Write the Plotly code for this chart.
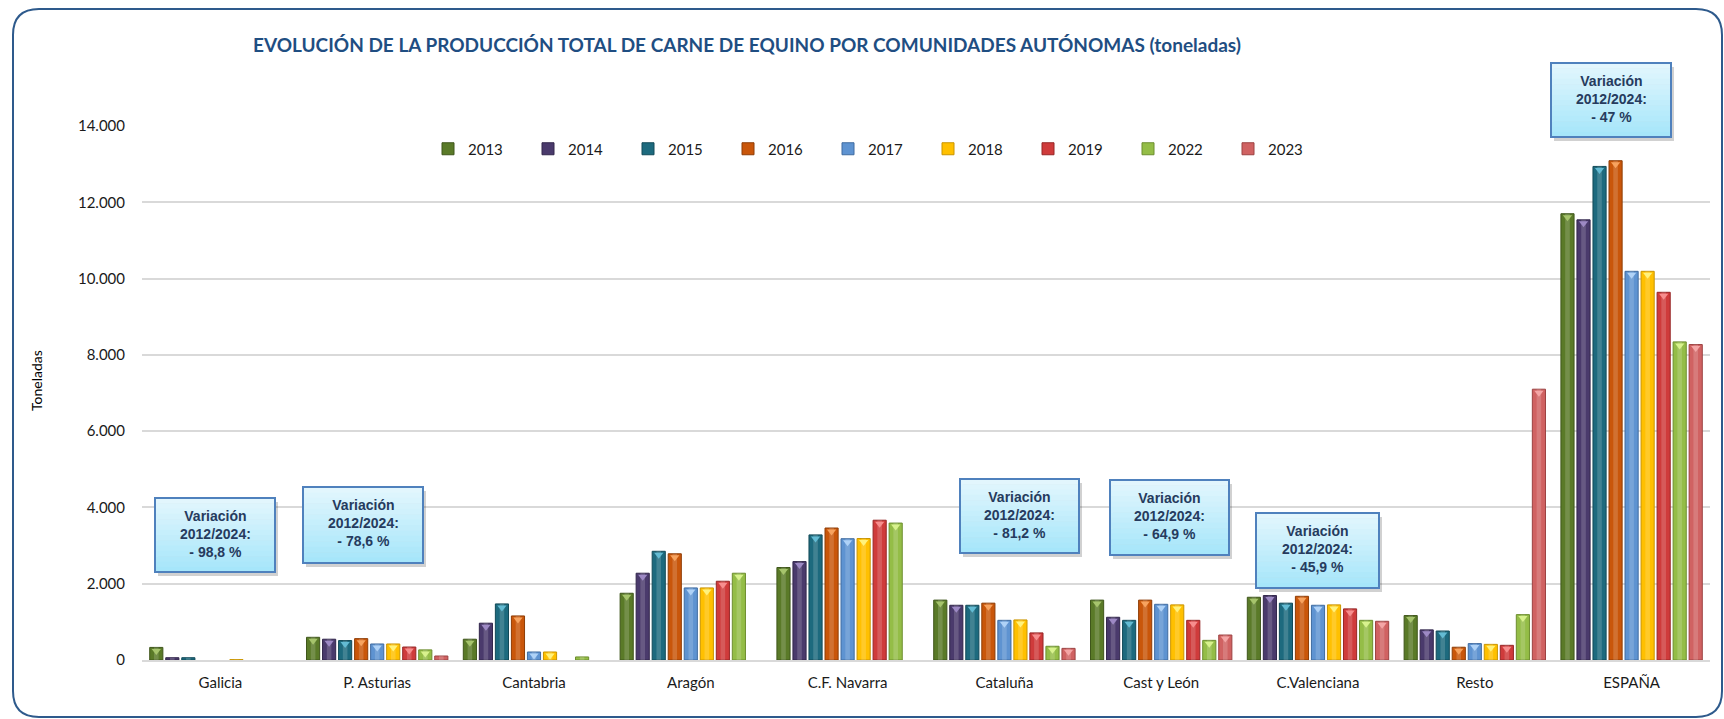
import plotly.graph_objects as go

# ---------------- data (toneladas) ----------------
regiones = ["Galicia", "P. Asturias", "Cantabria", "Aragón", "C.F. Navarra",
            "Cataluña", "Cast y León", "C.Valenciana", "Resto", "ESPAÑA"]
anios = ["2013", "2014", "2015", "2016", "2017", "2018", "2019", "2022", "2023"]

v2013 = [330, 595, 545, 1750, 2425, 1570, 1570, 1645, 1165, 11700]
v2014 = [60, 545, 965, 2275, 2580, 1435, 1120, 1690, 790, 11540]
v2015 = [60, 510, 1470, 2850, 3280, 1435, 1040, 1490, 760, 12940]
v2016 = [None, 560, 1155, 2785, 3460, 1490, 1570, 1670, 335, 13090]
v2017 = [None, 420, 210, 1890, 3180, 1040, 1460, 1435, 430, 10190]
v2018 = [10, 420, 210, 1890, 3185, 1050, 1445, 1445, 410, 10190]
v2019 = [None, 340, None, 2065, 3665, 710, 1040, 1340, 385, 9640]
v2022 = [None, 265, 80, 2275, 3590, 360, 515, 1040, 1190, 8340]
v2023 = [None, 105, None, None, None, 305, 655, 1015, 7100, 8270]
series = [v2013, v2014, v2015, v2016, v2017, v2018, v2019, v2022, v2023]

variacion_region = ["Galicia", "P. Asturias", "Cataluña", "Cast y León", "C.Valenciana", "ESPAÑA"]
variacion_texto = ["- 98,8 %", "- 78,6 %", "- 81,2 %", "- 64,9 %", "- 45,9 %", "- 47 %"]

y_ticks = [0, 2000, 4000, 6000, 8000, 10000, 12000, 14000]

# ---------------- style ----------------
bar_colors = ["#5A7A28", "#4A3A6C", "#1D6A7E", "#C9560A", "#5E93D1",
              "#FFC000", "#CF3B3B", "#94BD47", "#D06262"]
edge_colors = ["#3F561B", "#32264B", "#124A58", "#8E3D06", "#3F6BA0",
               "#C99400", "#962626", "#6D8E2F", "#9C4242"]
tip_colors = ["#A6C46C", "#9D89C4", "#63BBD3", "#F7A35F", "#AFD2F7",
              "#FFF27D", "#F78E8E", "#D8F28D", "#F4A6A6"]

W, H = 1724, 719
ML, MR, MT, MB = 142, 14, 126, 59
PW, PH = W - ML - MR, H - MT - MB
Y_MAX = 14000
BARGAP, GROUPGAP = 0.08, 0.18

FONT = "Lato"
BOX_FONT = "Liberation Sans"


def px_x(px):
    return (px - ML) / PW


def px_y(py):
    return (MT + PH - py) / PH


fig = go.Figure()

for k, (name, vals) in enumerate(zip(anios, series)):
    fig.add_trace(go.Bar(
        name=name, x=regiones, y=vals,
        marker=dict(color=bar_colors[k], line=dict(color=edge_colors[k], width=1)),
        hovertemplate="%{x} " + name + ": %{y:,.0f} t<extra></extra>",
    ))

# light bevel stripe and small tip triangle on each bar (numeric overlay axis)
n = len(anios)
slot = (1 - BARGAP) / n
px_per_unit = Y_MAX / PH
for k, vals in enumerate(series):
    xs, ys, xt, yt = [], [], [], []
    for i, v in enumerate(vals):
        if v is None or v <= 0:
            continue
        xc = i - (1 - BARGAP) / 2 + slot * (k + 0.5)
        xs.append(xc)
        ys.append(v)
        if v > 150:
            xt.append(xc)
            yt.append(v - 3.5 * px_per_unit)
    fig.add_trace(go.Bar(
        x=xs, y=ys, width=slot * (1 - GROUPGAP) * 0.35, xaxis="x2",
        marker=dict(color="rgba(255,255,255,0.16)", line=dict(width=0)),
        showlegend=False, hoverinfo="skip",
    ))
    fig.add_trace(go.Scatter(
        x=xt, y=yt, xaxis="x2", mode="markers",
        marker=dict(symbol="triangle-down", size=8, color=tip_colors[k],
                    line=dict(width=0)),
        showlegend=False, hoverinfo="skip", cliponaxis=False,
    ))

shapes = []

# outer rounded frame
x0, y0, x1, y1, r = 13, 9, 1722, 717, 26
frame = (f"M {px_x(x0 + r)},{px_y(y0)} L {px_x(x1 - r)},{px_y(y0)} "
         f"Q {px_x(x1)},{px_y(y0)} {px_x(x1)},{px_y(y0 + r)} "
         f"L {px_x(x1)},{px_y(y1 - r)} Q {px_x(x1)},{px_y(y1)} {px_x(x1 - r)},{px_y(y1)} "
         f"L {px_x(x0 + r)},{px_y(y1)} Q {px_x(x0)},{px_y(y1)} {px_x(x0)},{px_y(y1 - r)} "
         f"L {px_x(x0)},{px_y(y0 + r)} Q {px_x(x0)},{px_y(y0)} {px_x(x0 + r)},{px_y(y0)} Z")
shapes.append(dict(type="path", xref="paper", yref="paper", path=frame,
                   line=dict(color="#2E5A8C", width=2), layer="below"))

# call-out boxes (pixel rectangles)
boxes = [(155, 498, 275, 572), (303, 487, 423, 563), (960, 479, 1079, 553),
         (1110, 480, 1229, 555), (1256, 513, 1379, 588), (1551, 63, 1671, 137)]
annotations = []
top_rgb, bot_rgb = (226, 246, 253), (166, 230, 250)
steps = 14
for (bx0, by0, bx1, by1), region, txt in zip(boxes, variacion_region, variacion_texto):
    # soft shadow
    shapes.append(dict(type="rect", xref="paper", yref="paper",
                       x0=px_x(bx0 + 3), x1=px_x(bx1 + 3), y0=px_y(by1 + 4), y1=px_y(by0 + 4),
                       fillcolor="rgba(0,0,0,0.18)", line=dict(width=0)))
    # vertical gradient fill
    for s in range(steps):
        t = s / (steps - 1)
        c = tuple(round(a + (b - a) * t) for a, b in zip(top_rgb, bot_rgb))
        ya = by0 + (by1 - by0) * s / steps
        yb = by0 + (by1 - by0) * (s + 1) / steps
        shapes.append(dict(type="rect", xref="paper", yref="paper",
                           x0=px_x(bx0), x1=px_x(bx1), y0=px_y(yb + 0.5), y1=px_y(ya),
                           fillcolor=f"rgb{c}", line=dict(width=0)))
    shapes.append(dict(type="rect", xref="paper", yref="paper",
                       x0=px_x(bx0), x1=px_x(bx1), y0=px_y(by1), y1=px_y(by0),
                       line=dict(color="#4F81BD", width=2)))
    annotations.append(dict(
        xref="paper", yref="paper", x=px_x((bx0 + bx1) / 2), y=px_y(by0 + 8),
        xanchor="center", yanchor="top", showarrow=False, align="center",
        text=f"<b>Variación<br>2012/2024:<br>{txt}</b>",
        font=dict(family=BOX_FONT, size=14, color="#263B5E"),
    ))

annotations.append(dict(
    xref="paper", yref="paper", x=px_x(36), y=px_y(380), showarrow=False,
    text="Toneladas", textangle=-90, xanchor="center", yanchor="middle",
    font=dict(family=FONT, size=14, color="#000000"),
))

fig.update_layout(
    width=W, height=H,
    margin=dict(l=ML, r=MR, t=MT, b=MB, pad=0),
    paper_bgcolor="white", plot_bgcolor="white",
    separators=",.",
    barmode="group", bargap=BARGAP, bargroupgap=GROUPGAP,
    title=dict(
        text="<b>EVOLUCIÓN DE LA PRODUCCIÓN TOTAL DE CARNE DE EQUINO POR COMUNIDADES AUTÓNOMAS (toneladas)</b>",
        x=747 / W, xanchor="center", y=1 - 45 / H, yanchor="middle",
        font=dict(family=FONT, size=19, color="#1F4E82"),
    ),
    font=dict(family=FONT, size=15, color="#1a1a1a"),
    xaxis=dict(type="category", showgrid=False, showline=True, linecolor="#D9D9D9",
               linewidth=2, ticks="", ticklabelstandoff=8,
               tickfont=dict(family=FONT, size=15, color="#1a1a1a"),
               range=[-0.5, len(regiones) - 0.5]),
    xaxis2=dict(overlaying="x", range=[-0.5, len(regiones) - 0.5], visible=False),
    yaxis=dict(range=[0, Y_MAX], tickvals=y_ticks, tickformat=",d",
               showgrid=True, gridcolor="#D9D9D9", gridwidth=2, zeroline=False,
               ticks="", ticklabelstandoff=16,
               tickfont=dict(family=FONT, size=15, color="#1a1a1a")),
    legend=dict(orientation="h", x=px_x(428), y=px_y(149), xanchor="left", yanchor="middle",
                bgcolor="rgba(0,0,0,0)", font=dict(family=FONT, size=15, color="#1a1a1a"),
                entrywidth=55, entrywidthmode="pixels", itemwidth=30, tracegroupgap=0),
    shapes=shapes,
    annotations=annotations,
)

fig.write_html("out.html")
